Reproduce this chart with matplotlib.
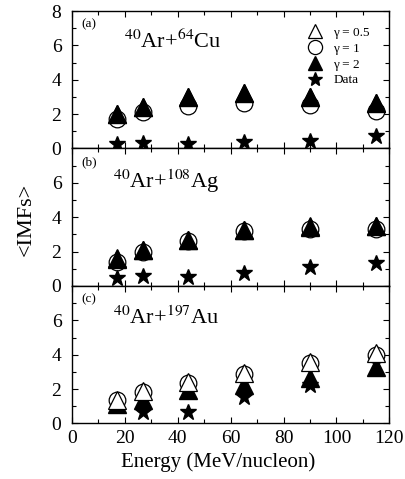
import numpy as np
import matplotlib
matplotlib.use("Agg")
import matplotlib.pyplot as plt
from matplotlib.lines import Line2D

plt.rcParams["font.family"] = ["Liberation Serif", "DejaVu Serif"]
plt.rcParams["mathtext.fontset"] = "stix"

energy = [17, 27, 44, 65, 90, 115]

# (a) 40Ar + 64Cu
cu_g05 = [2.0, 2.43, 3.0, 3.25, 3.0, 2.67]
cu_g1 = [1.72, 2.12, 2.5, 2.65, 2.53, 2.2]
cu_g2 = [2.0, 2.43, 3.0, 3.25, 3.0, 2.67]
cu_data = [0.29, 0.33, 0.29, 0.37, 0.46, 0.72]

# (b) 40Ar + 108Ag
ag_g05 = [1.6, 2.1, 2.7, 3.25, 3.47, 3.5]
ag_g1 = [1.4, 2.0, 2.62, 3.2, 3.3, 3.34]
ag_g2 = [1.59, 2.1, 2.68, 3.24, 3.46, 3.5]
ag_data = [0.45, 0.58, 0.54, 0.78, 1.13, 1.36]

# (c) 40Ar + 197Au
au_g05 = [1.39, 1.9, 2.43, 2.95, 3.6, 4.1]
au_g1 = [1.35, 1.85, 2.37, 2.89, 3.53, 4.0]
au_g2 = [1.12, 1.36, 1.94, 2.22, 2.62, 3.28]
au_data = [np.nan, 0.67, 0.69, 1.54, 2.24, np.nan]

panels = [
    ("(a)", r"$^{40}$Ar+$^{64}$Cu", cu_g05, cu_g1, cu_g2, cu_data, 0.165, 0.73),
    ("(b)", r"$^{40}$Ar+$^{108}$Ag", ag_g05, ag_g1, ag_g2, ag_data, 0.13, 0.71),
    ("(c)", r"$^{40}$Ar+$^{197}$Au", au_g05, au_g1, au_g2, au_data, 0.13, 0.72),
]

# draw order differs: open triangles on top in (c)
zorders = [
    {"g05": 2, "g1": 3, "g2": 4, "data": 5},
    {"g05": 2, "g1": 3, "g2": 4, "data": 5},
    {"g05": 4, "g1": 2, "g2": 3, "data": 1},
]

fig, axes = plt.subplots(3, 1, figsize=(4.06, 4.79), dpi=100, sharex=True)
fig.subplots_adjust(left=0.177, right=0.959, top=0.977, bottom=0.116, hspace=0)

tri_ms, circ_ms, star_ms = 12.5, 12, 12
for i, (ax, (lab, title, g05, g1, g2, dat, tx, ty)) in enumerate(zip(axes, panels)):
    z = zorders[i]
    ax.plot(energy, g05, ls="none", marker="^", ms=tri_ms, mfc="white", mec="black",
            mew=0.9, zorder=z["g05"])
    ax.plot(energy, g1, ls="none", marker="o", ms=circ_ms, mfc="white", mec="black",
            mew=0.9, zorder=z["g1"])
    ax.plot(energy, g2, ls="none", marker="^", ms=tri_ms, mfc="black", mec="black",
            zorder=z["g2"])
    ax.plot(energy, dat, ls="none", marker="*", ms=star_ms, mfc="black", mec="black",
            zorder=z["data"])

    ax.set_xlim(0, 120)
    ax.set_ylim(0, 8)
    ax.set_xticks(np.arange(0, 121, 20))
    ax.set_xticks(np.arange(0, 121, 10), minor=True)
    ax.set_yticks([0, 2, 4, 6, 8] if i == 0 else [0, 2, 4, 6])
    ax.set_yticks(np.arange(0, 9, 1), minor=True)
    ax.tick_params(which="both", direction="in", top=True, right=True, labelsize=14)
    ax.tick_params(axis="x", pad=5)
    ax.tick_params(axis="y", pad=7.5)
    ax.tick_params(which="major", length=4.5, width=0.8)
    ax.tick_params(which="minor", length=3, width=0.8)
    for s in ax.spines.values():
        s.set_linewidth(1.0)

    ax.text(0.03, 0.9, lab, transform=ax.transAxes, fontsize=9.5, va="center")
    ax.text(tx, ty, title, transform=ax.transAxes, fontsize=16, va="baseline")

handles = [
    Line2D([], [], ls="none", marker="^", ms=tri_ms, mfc="white", mec="black", mew=0.9),
    Line2D([], [], ls="none", marker="o", ms=circ_ms, mfc="white", mec="black", mew=0.9),
    Line2D([], [], ls="none", marker="^", ms=tri_ms, mfc="black", mec="black"),
    Line2D([], [], ls="none", marker="*", ms=star_ms, mfc="black", mec="black"),
]
labels = ["\u03b3 = 0.5", "\u03b3 = 1", "\u03b3 = 2", "Data"]
axes[0].legend(handles, labels, loc="upper left", bbox_to_anchor=(0.715, 0.955),
               frameon=False, fontsize=9.5, markerscale=0.85, handlelength=1.1,
               handletextpad=0.8, labelspacing=0.28, borderpad=0.2)

axes[2].set_xlabel("Energy (MeV/nucleon)", fontsize=15, labelpad=0)
axes[2].xaxis.set_label_coords(0.462, -0.21)
fig.text(0.064, 0.543, "<IMFs>", rotation=90, fontsize=16, ha="center", va="center")

fig.savefig("out.png", dpi=100)
